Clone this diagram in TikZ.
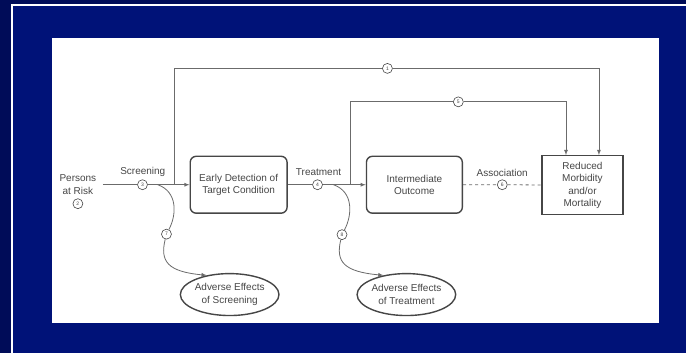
\documentclass[tikz,border=0pt]{standalone}
\usepackage{fontspec}
\setmainfont{Liberation Sans}
\usetikzlibrary{arrows, shapes.geometric, calc}
\definecolor{slideblue}{RGB}{0,18,120}
\definecolor{slidedark}{RGB}{0,12,88}
\definecolor{ink}{RGB}{70,70,70}

\begin{document}
\begin{tikzpicture}[x=1pt, y=-1pt, >=latex,
    font=\fontsize{10}{12.5}\selectfont,
    line/.style={draw=ink!80, line width=0.8pt},
    box/.style={draw=ink, text=ink, line width=1.4pt, align=center, inner sep=0pt},
    oval/.style={ellipse, draw=ink, text=ink, line width=1.4pt, align=center, inner sep=0pt},
    lbl/.style={text=ink, align=center},
    num/.style={circle, draw=ink, fill=white, text=ink, line width=0.6pt, inner sep=0pt, minimum size=10pt, font=\fontsize{5}{5}\selectfont}]
        % slide background
        \fill[slidedark] (0,0) rectangle (687,354);
        \fill[slideblue] (11,4) rectangle (687,354);
        \draw[white, line width=2pt] (12,354) -- (12,5.3) -- (687,5.3);
        \fill[white] (52,38) rectangle (660,323);

        % boxes
        \node[box, rounded corners=6pt, minimum width=97pt, minimum height=57pt] (early) at (239,185) {Early Detection of\\Target Condition};
        \node[box, rounded corners=6pt, minimum width=96pt, minimum height=57pt] (inter) at (415,185) {Intermediate\\Outcome};
        \node[box, minimum width=81pt, minimum height=59pt, font=\fontsize{10}{12.5}\selectfont] (reduced) at (583.3,185.5) {Reduced\\Morbidity\\and/or\\Mortality};
        \node[oval, minimum width=96pt, minimum height=42pt] (scr) at (230,295) {Adverse Effects\\of Screening};
        \node[oval, minimum width=96pt, minimum height=42pt] (trt) at (407,295) {Adverse Effects\\of Treatment};

        % labels
        \node[lbl] (risk) at (78,185) {Persons\\at Risk};
        \node[lbl] (scrlab) at (143,172) {Screening};
        \node[lbl] (trtlab) at (319,172) {Treatment};
        \node[lbl] (asslab) at (503,173) {Association};

        % key questions
        \node[num] (c1) at (388,68.5) {1};
        \node[num] (c2) at (78,204) {2};
        \node[num] (c3) at (142.7,185) {3};
        \node[num] (c4) at (318,185) {4};
        \node[num] (c5) at (459,102) {5};
        \node[num] (c6) at (503,185) {6};
        \node[num] (c7) at (166.7,234.5) {7};
        \node[num] (c8) at (342.5,235) {8};

        \coordinate (start) at (103,185);
        \coordinate (fork1) at (175,185);
        \coordinate (fork2) at (351,185);
        \coordinate (harm1) at (158,185);
        \coordinate (harm2) at (334,185);

        \draw[line, ->] (start) -- (c3) -- (early);
        \draw[line, ->] (early) -- (c4) -- (inter);
        \draw[line, dashed] (inter) -- (c6) -- (reduced);
        \draw[line, ->] (fork1) |- (c1) -| ($(reduced.north)+(16.5,0)$);
        \draw[line, ->] (fork2) |- (c5) -| ($(reduced.north)+(-16.5,0)$);

        \draw[line] (harm1) .. controls (178,192) and (177,215) .. (c7);
        \draw[line, ->] (c7) .. controls (160,262) and (168,272) .. (scr.140);
        \draw[line] (harm2) .. controls (354,192) and (353,215) .. (c8);
        \draw[line, ->] (c8) .. controls (336,262) and (344,272) .. (trt.140);
\end{tikzpicture}
\end{document}
